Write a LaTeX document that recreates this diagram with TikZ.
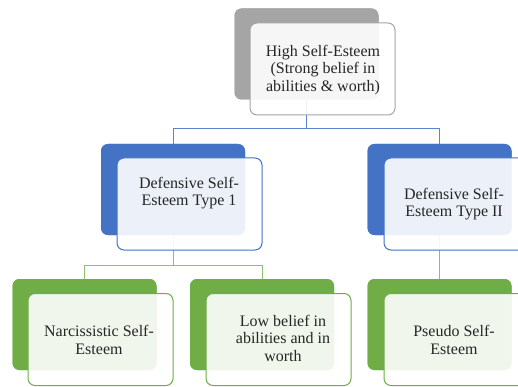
\documentclass[tikz,border=0pt]{standalone}
\usepackage{fontspec}
\setmainfont{Liberation Serif}
\definecolor{cgray}{HTML}{A5A5A5}
\definecolor{cblue}{HTML}{4472C4}
\definecolor{cgreen}{HTML}{70AD47}
\definecolor{lblue}{HTML}{5B84CC}
\definecolor{lgreen}{HTML}{8CC26A}
\definecolor{txt}{HTML}{262626}
\begin{document}
\begin{tikzpicture}[x=1pt,y=-1pt,
  backbox/.style={rectangle,rounded corners=7pt,fill=#1,inner sep=0pt,minimum width=144pt,minimum height=91pt},
  frontbox/.style={rectangle,rounded corners=7pt,draw=#1,line width=1pt,fill=white,fill opacity=0.9,inner sep=0pt,minimum width=145pt,minimum height=92pt},
  lbl/.style={align=center,font=\fontsize{16}{17.5}\selectfont,text=txt},
  conn/.style={draw=#1,line width=1pt}]
\useasboundingbox (0,0) rectangle (518,387);
\clip (0,0) rectangle (518,387);
% back boxes
\node[backbox=cgray] (gb) at (306.5,54) {};
\node[backbox=cblue] (bl) at (173,189.5) {};
\node[backbox=cblue] (br) at (439.5,189.5) {};
\node[backbox=cgreen] (gl) at (84.5,324.5) {};
\node[backbox=cgreen] (gm) at (262,324.5) {};
\node[backbox=cgreen] (gr) at (439.5,324.5) {};
% connectors
\coordinate (j1) at (306.5,129);
\coordinate (j2) at (173,265);
\draw[conn=lblue] (gb.south) -- (j1) -| (bl.north);
\draw[conn=lblue] (j1) -| (br.north);
\draw[conn=lgreen] (bl.south) -- (j2) -| (gl.north);
\draw[conn=lgreen] (j2) -| (gm.north);
\draw[conn=lgreen] (br.south) -- (gr.north);
% redraw back boxes above connectors
\node[backbox=cgray] at (gb) {};
\node[backbox=cblue] at (bl) {};
\node[backbox=cblue] at (br) {};
\node[backbox=cgreen] at (gl) {};
\node[backbox=cgreen] at (gm) {};
\node[backbox=cgreen] at (gr) {};
% front boxes
\node[frontbox=cgray] (gf) at (322.5,69) {};
\node[frontbox=cblue] (blf) at (189.5,204) {};
\node[frontbox=cblue] (brf) at (456.5,204) {};
\node[frontbox=cgreen] (glf) at (100.5,339.5) {};
\node[frontbox=cgreen] (gmf) at (278.5,339.5) {};
\node[frontbox=cgreen] (grf) at (456.5,339.5) {};
% labels
\node[lbl] (t1) at (323,70) {High Self-Esteem\\(Strong belief in\\abilities \& worth)};
\node[lbl] (t2) at (189,193) {Defensive Self-\\Esteem Type 1};
\node[lbl] (t3) at (454,204) {Defensive Self-\\Esteem Type II};
\node[lbl] (t4) at (99,340) {Narcissistic Self-\\Esteem};
\node[lbl] (t5) at (283,338) {Low belief in\\abilities and in\\worth};
\node[lbl] (t6) at (454,340) {Pseudo Self-\\Esteem};
\end{tikzpicture}
\end{document}
